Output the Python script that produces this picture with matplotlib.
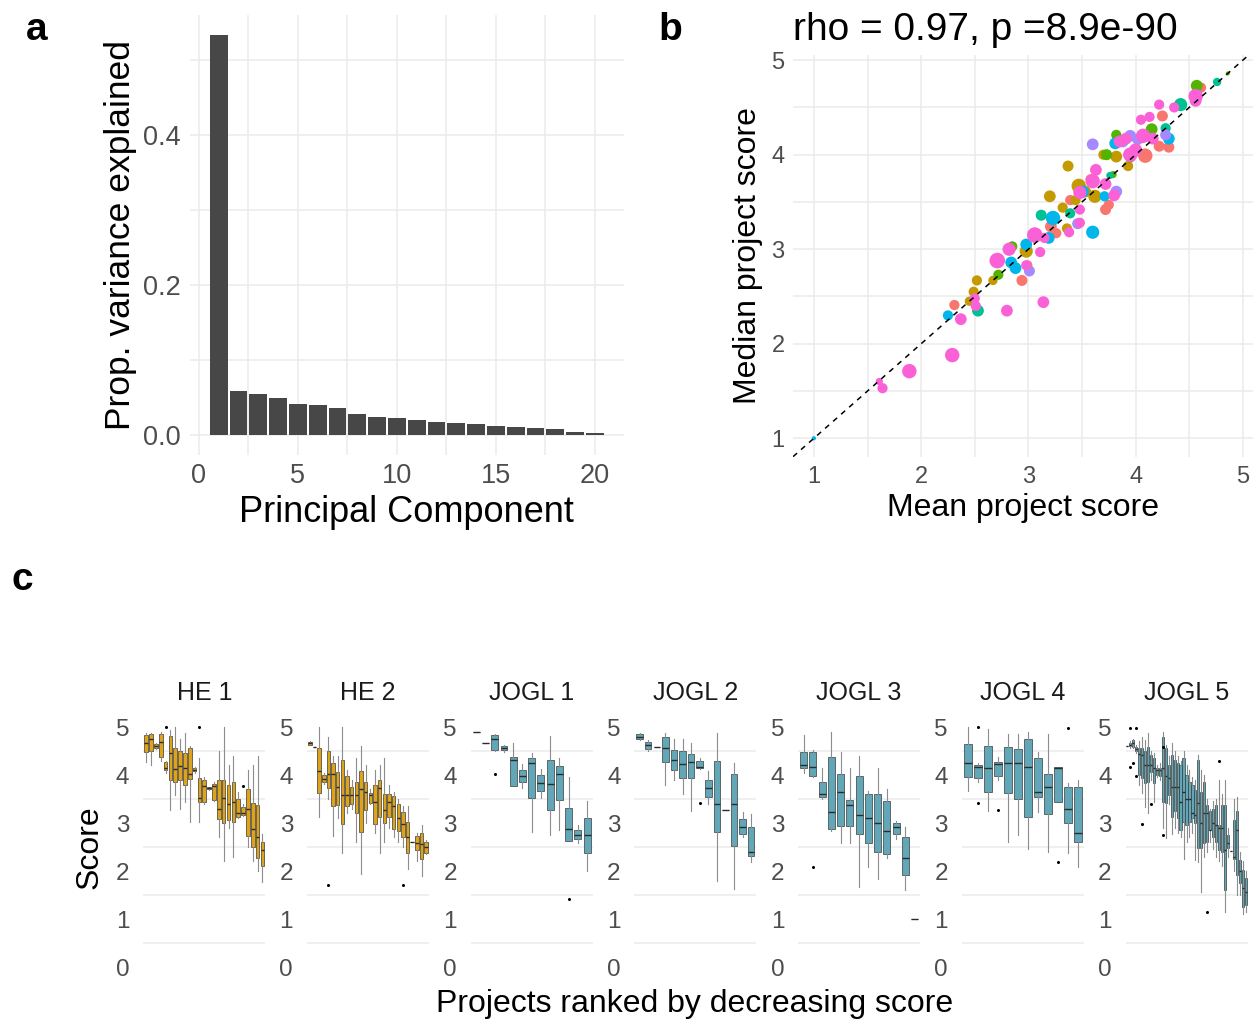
import numpy as np
import matplotlib
matplotlib.use("Agg")
import matplotlib.pyplot as plt

plt.rcParams['font.family'] = ['Liberation Sans', 'DejaVu Sans']

# ---------------- panel a: PCA scree ----------------
pc = list(range(1, 21))
prop_var = [0.533, 0.0587, 0.0542, 0.0498, 0.0409, 0.0396, 0.0364, 0.0276, 0.0236, 0.0222,
            0.0196, 0.0169, 0.0164, 0.0151, 0.0124, 0.0102, 0.0093, 0.0076, 0.0036, 0.0027]

# ---------------- panel b: mean vs median per project ----------------
groups = ["HE 1", "HE 2", "JOGL 1", "JOGL 2", "JOGL 3", "JOGL 4", "JOGL 5"]
group_colors = ["#F8766D", "#C49A00", "#53B400", "#00C094", "#00B6EB", "#A58AFF", "#FB61D7"]

mean_he1 = [2.31, 2.94, 2.99, 3.21, 3.26, 3.39, 3.72, 3.75, 4.09, 4.22, 4.31, 4.25, 4.61, 3.58]
median_he1 = [2.41, 2.67, 2.83, 3.24, 3.17, 3.52, 3.42, 3.47, 3.99, 4.09, 4.08, 4.41, 4.71, 3.74]
n_he1 = [6, 7, 6, 8, 6, 6, 7, 6, 12, 7, 7, 7, 6, 6]

mean_he2 = [2.52, 2.49, 2.45, 2.67, 2.98, 3.20, 3.32, 3.37, 3.36, 3.47, 3.53, 3.62, 3.70, 3.82, 3.93, 3.44]
median_he2 = [2.67, 2.55, 2.45, 2.67, 2.98, 3.56, 3.44, 3.88, 3.22, 3.67, 3.61, 3.56, 4.00, 3.98, 3.88, 3.52]
n_he2 = [6, 6, 5, 5, 10, 8, 6, 7, 6, 12, 8, 10, 6, 8, 6, 6]

mean_j1 = [2.72, 2.85, 3.73, 3.79, 3.82, 4.15, 4.57, 4.86, 3.95]
median_j1 = [2.73, 3.03, 4.00, 3.79, 4.21, 4.27, 4.73, 4.86, 3.97]
n_j1 = [6, 6, 7, 3, 6, 8, 8, 1, 6]

mean_j2 = [2.53, 3.12, 3.39, 4.28, 4.42, 4.76, 3.76]
median_j2 = [2.35, 3.36, 3.38, 4.28, 4.53, 4.77, 3.78]
n_j2 = [8, 7, 6, 6, 10, 4, 3]

mean_j3 = [1.00, 2.25, 2.84, 2.88, 2.98, 3.19, 3.23, 3.51, 3.60, 3.71, 3.81, 4.31]
median_j3 = [1.00, 2.30, 2.86, 2.80, 3.05, 3.12, 3.33, 3.61, 3.18, 3.56, 4.12, 4.17]
n_j3 = [1, 6, 8, 8, 8, 8, 12, 8, 10, 6, 8, 8]

mean_j4 = [3.60, 3.01, 3.46, 3.82, 3.95, 4.02, 4.28, 3.88]
median_j4 = [4.11, 2.77, 3.27, 3.61, 4.20, 4.16, 4.21, 4.14]
n_j4 = [8, 7, 7, 8, 8, 7, 7, 8]

mean_j5 = [1.61, 1.64, 1.89, 2.29, 2.37, 2.50, 2.51, 2.80, 3.14, 2.71, 2.82, 2.98, 3.11, 3.06,
           3.15, 3.38, 3.48, 3.48, 3.48, 3.63, 3.60, 3.72, 3.80, 3.91, 3.95, 4.05, 4.13, 4.07,
           4.16, 4.22, 4.36, 4.56, 4.56, 4.00, 3.85]
median_j5 = [1.60, 1.53, 1.71, 1.88, 2.26, 2.48, 2.40, 2.35, 2.44, 2.88, 3.00, 2.83, 2.97, 3.15,
             3.12, 3.18, 3.28, 3.42, 3.60, 3.84, 3.72, 3.69, 3.57, 4.17, 4.00, 4.37, 4.40, 4.20,
             4.17, 4.53, 4.50, 4.62, 4.57, 4.05, 4.14]
n_j5 = [3, 6, 12, 12, 8, 6, 6, 8, 8, 14, 10, 6, 6, 14, 6, 6, 6, 6, 10, 8, 12, 8, 8, 8, 12,
        6, 6, 12, 8, 6, 6, 12, 8, 10, 8]

scatter_data = [(mean_he1, median_he1, n_he1), (mean_he2, median_he2, n_he2),
                (mean_j1, median_j1, n_j1), (mean_j2, median_j2, n_j2),
                (mean_j3, median_j3, n_j3), (mean_j4, median_j4, n_j4),
                (mean_j5, median_j5, n_j5)]

# ---------------- panel c: score distributions (whislo, q1, med, q3, whishi) ----------------
box_he1 = [(4.28, 4.47, 4.66, 4.83, 4.87), (4.20, 4.51, 4.74, 4.85, 4.87), (4.55, 4.57, 4.60, 4.64, 4.66),
           (4.30, 4.37, 4.69, 4.85, 4.90), (4.05, 4.10, 4.14, 4.28, 4.30), (3.27, 3.90, 4.45, 4.81, 4.94),
           (3.58, 3.86, 4.12, 4.57, 5.00), (3.30, 3.90, 4.19, 4.49, 4.76), (3.44, 3.79, 4.15, 4.45, 4.87),
           (3.03, 3.91, 4.03, 4.57, 4.60), (4.05, 4.08, 4.10, 4.14, 4.16), (3.03, 3.44, 3.53, 3.93, 4.35),
           (3.40, 3.44, 3.77, 3.90, 3.95), (3.68, 3.70, 3.72, 3.74, 3.76), (3.45, 3.48, 3.78, 3.81, 3.85),
           (2.70, 3.08, 3.29, 3.90, 4.50), (2.20, 2.99, 3.53, 3.90, 5.00), (2.90, 3.06, 3.39, 3.80, 4.20),
           (2.30, 3.03, 3.44, 3.85, 4.40), (3.10, 3.12, 3.20, 3.51, 3.65), (3.14, 3.16, 3.20, 3.34, 3.40),
           (2.50, 2.72, 3.29, 3.70, 4.10), (2.20, 2.51, 2.87, 3.42, 4.20), (2.00, 2.27, 2.70, 3.37, 4.40),
           (1.78, 2.11, 2.44, 2.61, 2.78)]
out_he1 = [(5, 5.0), (12, 5.0), (21, 3.77)]

box_he2 = [(4.62, 4.63, 4.66, 4.69, 4.70), (4.59, 4.59, 4.59, 4.59, 4.59), (3.13, 3.62, 4.09, 4.56, 5.00),
           (3.82, 3.86, 3.91, 4.00, 4.05), (3.50, 3.72, 4.03, 4.50, 4.80), (2.72, 3.35, 4.03, 4.24, 4.40),
           (3.10, 3.37, 3.74, 4.07, 4.40), (2.38, 2.98, 3.58, 4.31, 5.00), (3.20, 3.35, 3.58, 3.97, 4.10),
           (3.30, 3.40, 3.58, 3.76, 3.90), (2.60, 3.20, 3.58, 3.86, 4.35), (1.93, 2.82, 3.70, 4.09, 4.60),
           (3.00, 3.27, 3.65, 3.86, 4.20), (3.40, 3.42, 3.58, 3.62, 3.70), (2.80, 2.97, 3.44, 3.80, 4.10),
           (2.38, 3.13, 3.72, 3.90, 4.20), (2.60, 2.99, 3.27, 3.60, 4.35), (2.90, 3.13, 3.44, 3.60, 3.80),
           (2.70, 2.88, 3.35, 3.56, 3.65), (2.60, 2.84, 3.10, 3.40, 3.50), (2.50, 2.71, 2.97, 3.22, 3.35),
           (2.05, 2.37, 2.70, 3.02, 3.35), (2.60, 2.60, 2.60, 2.60, 2.60), (2.20, 2.43, 2.59, 2.73, 2.80),
           (1.90, 2.24, 2.57, 2.80, 2.95), (2.35, 2.37, 2.50, 2.60, 2.65)]
out_he2 = [(5, 1.71), (21, 1.71)]

box_j1 = [(4.90, 4.90, 4.90, 4.90, 4.90), (4.67, 4.67, 4.67, 4.67, 4.67), (4.50, 4.53, 4.76, 4.83, 4.85),
          (4.48, 4.52, 4.57, 4.61, 4.62), (3.77, 3.77, 4.31, 4.37, 4.66), (3.72, 3.85, 3.98, 4.10, 4.22),
          (2.82, 3.53, 4.26, 4.36, 4.45), (3.53, 3.67, 3.83, 3.99, 4.13), (2.75, 3.27, 3.81, 4.31, 4.82),
          (2.85, 3.47, 4.02, 4.19, 4.35), (2.63, 2.63, 2.88, 3.31, 3.95), (2.59, 2.66, 2.76, 2.85, 2.95),
          (2.01, 2.38, 2.74, 3.10, 3.46)]
out_j1 = [(3, 4.03), (11, 1.42)]

box_j2 = [(4.72, 4.74, 4.80, 4.85, 4.88), (4.50, 4.54, 4.63, 4.69, 4.72), (4.59, 4.59, 4.59, 4.59, 4.59),
          (3.79, 4.28, 4.56, 4.80, 4.87), (3.90, 4.10, 4.31, 4.53, 4.74), (3.60, 3.93, 4.23, 4.51, 4.76),
          (3.24, 3.93, 4.28, 4.44, 4.66), (4.12, 4.15, 4.17, 4.29, 4.35), (3.40, 3.54, 3.72, 3.89, 4.08),
          (1.80, 2.82, 3.40, 4.29, 4.88), (3.28, 3.28, 3.28, 3.28, 3.28), (1.63, 2.52, 3.39, 4.03, 4.24),
          (2.70, 2.78, 2.92, 3.08, 3.23), (2.19, 2.31, 2.40, 2.92, 3.18)]
out_j2 = [(8, 3.42)]

box_j3 = [(4.05, 4.14, 4.21, 4.47, 4.83), (3.95, 3.97, 4.16, 4.47, 4.52), (3.49, 3.54, 3.60, 3.86, 4.14),
          (2.84, 2.87, 3.22, 4.37, 4.90), (2.59, 2.94, 3.65, 4.03, 4.47), (2.59, 2.94, 3.37, 3.47, 4.14),
          (1.67, 2.77, 3.16, 3.98, 4.40), (2.08, 2.58, 3.10, 3.60, 3.67), (1.83, 2.40, 3.01, 3.60, 4.14),
          (2.28, 2.35, 2.84, 3.46, 3.70), (2.66, 2.77, 2.91, 3.00, 3.05), (1.60, 1.92, 2.28, 2.70, 2.91),
          (1.00, 1.00, 1.00, 1.00, 1.00)]
out_j3 = [(2, 2.09)]

box_j4 = [(3.67, 3.95, 4.26, 4.64, 5.00), (3.86, 3.93, 4.16, 4.21, 4.24), (3.25, 3.64, 4.14, 4.61, 4.96),
          (3.90, 3.97, 4.23, 4.28, 4.38), (2.61, 3.62, 4.24, 4.58, 4.85), (2.75, 3.49, 4.24, 4.54, 4.85),
          (2.46, 3.12, 4.16, 4.76, 4.90), (3.23, 3.55, 3.64, 4.35, 4.47), (2.40, 3.19, 3.74, 4.02, 4.85),
          (3.44, 3.44, 4.14, 4.17, 4.17), (2.38, 3.01, 3.29, 3.74, 3.84), (2.09, 2.61, 2.80, 3.74, 3.90)]
out_j4 = [(2, 5.0), (2, 3.41), (4, 3.27), (10, 2.18), (11, 4.97)]

box_j5 = [(4.61, 4.61, 4.61, 4.61, 4.61), (4.57, 4.60, 4.63, 4.66, 4.70), (4.56, 4.59, 4.66, 4.73, 4.76),
          (4.45, 4.49, 4.55, 4.59, 4.62), (3.80, 4.00, 4.43, 4.57, 4.70), (3.62, 3.93, 4.42, 4.56, 4.80),
          (3.34, 3.83, 4.21, 4.49, 4.73), (3.20, 3.86, 4.21, 4.59, 4.87), (3.90, 4.07, 4.21, 4.42, 4.50),
          (3.44, 3.83, 4.14, 4.35, 4.45), (3.95, 4.00, 4.10, 4.14, 4.20), (3.90, 3.97, 4.10, 4.14, 4.25),
          (2.89, 3.44, 4.14, 4.80, 4.90), (2.68, 3.41, 3.97, 4.56, 4.63), (3.40, 3.58, 3.93, 4.21, 4.40),
          (2.78, 3.13, 3.76, 4.42, 4.66), (2.90, 3.24, 3.76, 4.31, 4.50), (2.80, 3.10, 3.76, 4.24, 4.40),
          (2.70, 2.85, 3.44, 4.20, 4.30), (2.26, 3.03, 3.65, 4.35, 4.49), (2.60, 2.96, 3.51, 4.00, 4.20),
          (2.70, 3.03, 3.51, 3.86, 4.10), (2.80, 3.10, 3.20, 3.79, 3.95), (2.23, 2.99, 3.17, 3.69, 3.90),
          (2.19, 2.47, 3.41, 4.31, 4.42), (1.57, 2.47, 2.99, 3.65, 4.10), (2.30, 2.58, 3.20, 3.86, 4.00),
          (2.40, 2.61, 3.20, 3.38, 3.50), (2.60, 2.85, 2.85, 3.24, 3.30), (2.45, 2.70, 3.00, 3.30, 3.45),
          (2.30, 2.61, 2.96, 3.38, 3.50), (2.20, 2.44, 2.89, 2.96, 3.90), (2.10, 2.40, 2.89, 3.38, 3.60),
          (1.15, 1.60, 2.44, 3.38, 3.90), (2.30, 2.47, 2.58, 2.75, 2.90), (2.42, 2.42, 2.42, 2.42, 2.42),
          (2.00, 2.26, 2.30, 3.06, 3.50), (1.50, 1.92, 2.85, 3.24, 3.55), (1.50, 1.74, 1.99, 2.23, 2.40),
          (1.10, 1.26, 1.64, 2.02, 2.20), (1.15, 1.29, 1.57, 1.85, 2.00)]
out_j5 = [(2, 4.97), (2, 4.17), (3, 4.26), (4, 4.97), (4, 3.97), (6, 2.98), (9, 3.39),
          (13, 4.59), (13, 2.75), (28, 1.14), (32, 4.30)]

facet_boxes = [box_he1, box_he2, box_j1, box_j2, box_j3, box_j4, box_j5]
facet_outliers = [out_he1, out_he2, out_j1, out_j2, out_j3, out_j4, out_j5]
facet_fill = ["#DFA31A", "#DFA31A", "#62A7B7", "#62A7B7", "#62A7B7", "#62A7B7", "#62A7B7"]

# ---------------- figure ----------------
W, H = 1257, 1021
fig = plt.figure(figsize=(W / 100, H / 100), dpi=100)
GRID = "#EBEBEB"
TICK = "#4D4D4D"


def px_axes(left, top, right, bottom):
    return fig.add_axes([left / W, 1 - bottom / H, (right - left) / W, (bottom - top) / H])


def minimal(ax, size):
    for s in ax.spines.values():
        s.set_visible(False)
    ax.tick_params(which="both", length=0, labelsize=size, labelcolor=TICK)
    ax.set_axisbelow(True)


# panel a
ax = px_axes(190, 15, 623.5, 455)
ax.bar(pc, prop_var, width=0.9, color="#474747")
ax.set_xlim(-0.445, 21.445)
ax.set_ylim(-0.0267, 0.56)
ax.set_xticks([0, 5, 10, 15, 20])
ax.set_xticks([2.5, 7.5, 12.5, 17.5], minor=True)
ax.set_yticks([0, 0.2, 0.4], ["0.0", "0.2", "0.4"])
ax.set_yticks([0.1, 0.3, 0.5], minor=True)
ax.grid(which="both", color=GRID, lw=1.1)
minimal(ax, 19.5)
ax.tick_params(axis="y", pad=7)
ax.tick_params(axis="x", pad=6)
ax.set_ylabel("Prop. variance explained", fontsize=25.5, labelpad=4)
ax.set_xlabel("Principal Component", fontsize=26, labelpad=4)

# panel b
ax = px_axes(793, 55, 1253, 456.7)
for (mx, md, nr), col in zip(scatter_data, group_colors):
    ax.scatter(mx, md, s=np.array(nr) * 9, color=col, edgecolors="none", zorder=2)
ax.axline((1, 1), slope=1, color="black", lw=1.1, ls=(0, (3.5, 3.5)), zorder=3)
ax.set_xlim(0.805, 5.095)
ax.set_ylim(0.805, 5.055)
ax.set_xticks([1, 2, 3, 4, 5])
ax.set_yticks([1, 2, 3, 4, 5])
ax.set_xticks([1.5, 2.5, 3.5, 4.5], minor=True)
ax.set_yticks([1.5, 2.5, 3.5, 4.5], minor=True)
ax.grid(which="both", color=GRID, lw=1.1)
minimal(ax, 17)
ax.tick_params(axis="y", pad=6)
ax.tick_params(axis="x", pad=7)
ax.set_xlabel("Mean project score", fontsize=23, labelpad=3)
ax.set_ylabel("Median project score", fontsize=23, labelpad=6)
ax.set_title("rho = 0.97, p =8.9e-90", loc="left", fontsize=28, pad=11)

# panel c
for i, name in enumerate(groups):
    left = 143.3 + i * 163.7
    ax = px_axes(left, 715, left + 122, 979)
    boxes = facet_boxes[i]
    stats = []
    for lo, q1, med, q3, hi in boxes:
        stats.append({"whislo": lo, "q1": q1, "med": med, "q3": q3, "whishi": hi, "fliers": []})
    pos = np.arange(1, len(boxes) + 1)
    ax.bxp(stats, positions=pos, widths=0.75, patch_artist=True, showcaps=False,
           boxprops=dict(facecolor=facet_fill[i], edgecolor="#3A3A3A", lw=0.5),
           whiskerprops=dict(color="#8C8C8C", lw=0.8),
           medianprops=dict(color="#2B2B2B", lw=1.0))
    ox = [p for p, v in facet_outliers[i]]
    oy = [v for p, v in facet_outliers[i]]
    ax.plot(ox, oy, "o", color="black", ms=2.2, mec="none")
    ax.set_xlim(0.4, len(boxes) + 0.6)
    ax.set_ylim(-0.25, 5.25)
    ax.set_xticks([])
    ax.set_yticks([0, 1, 2, 3, 4, 5])
    ax.set_yticks([0.5, 1.5, 2.5, 3.5, 4.5], minor=True)
    ax.grid(which="minor", axis="y", color=GRID, lw=1.1)
    minimal(ax, 17.5)
    ax.tick_params(axis="y", pad=10)
    ax.set_title(name, fontsize=18, color="#1A1A1A", pad=11)

fig.text(90 / W, 1 - 847 / H, "Score", fontsize=23, rotation=90, ha="center", va="center")
fig.text(695 / W, 1 - 1004 / H, "Projects ranked by decreasing score", fontsize=23,
         ha="center", va="center")

# panel letters
fig.text(37 / W, 1 - 30 / H, "a", fontsize=28, fontweight="bold", ha="center", va="center")
fig.text(670 / W, 1 - 30 / H, "b", fontsize=28, fontweight="bold", ha="center", va="center")
fig.text(22 / W, 1 - 580 / H, "c", fontsize=28, fontweight="bold", ha="center", va="center")

fig.savefig("out.png", dpi=100)
